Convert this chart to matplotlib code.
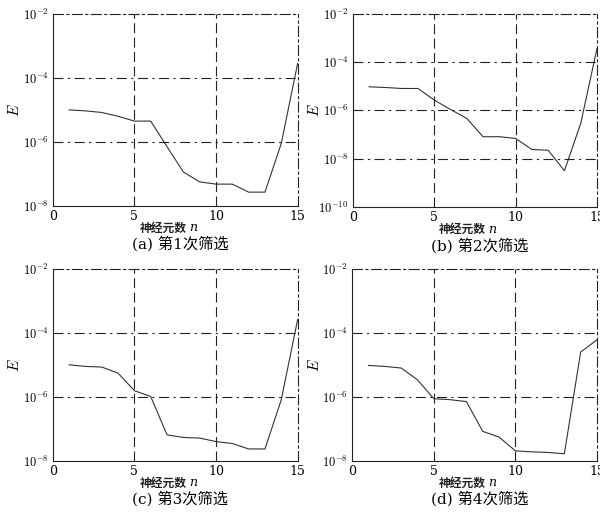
import numpy as np
import matplotlib
matplotlib.use("Agg")
import matplotlib.pyplot as plt
from matplotlib.ticker import FixedLocator, FuncFormatter

plt.rcParams['font.family'] = ['DejaVu Serif', 'Noto Sans CJK SC']
plt.rcParams['mathtext.fontset'] = 'cm'

# 神经元数 n
n = np.arange(1, 16)

# log10(E), one list per screening round
logE_1 = [-5.0, -5.03, -5.08, -5.2, -5.35, -5.35, -6.15, -6.94, -7.25, -7.32,
          -7.32, -7.57, -7.57, -6.05, -3.55]
logE_2 = [-5.02, -5.05, -5.09, -5.09, -5.57, -5.96, -6.33, -7.09, -7.09, -7.16,
          -7.62, -7.65, -8.5, -6.54, -3.43]
logE_3 = [-5.0, -5.05, -5.07, -5.26, -5.81, -5.99, -7.19, -7.27, -7.29, -7.4,
          -7.46, -7.63, -7.63, -6.09, -3.59]
logE_4 = [-5.02, -5.05, -5.1, -5.47, -6.06, -6.09, -6.15, -7.08, -7.26, -7.69,
          -7.72, -7.74, -7.78, -4.6, -4.22]

captions = ["(a) 第1次筛选", "(b) 第2次筛选", "(c) 第3次筛选", "(d) 第4次筛选"]
xlabel_cn = "神经元数"
ylims = [(1e-8, 1e-2), (1e-10, 1e-2), (1e-8, 1e-2), (1e-8, 1e-2)]
xticks = [0, 5, 10, 15]

# [left, bottom, width, height] of each panel
boxes = [[0.088, 0.601, 0.408, 0.372],
         [0.588, 0.599, 0.407, 0.374],
         [0.088, 0.107, 0.408, 0.372],
         [0.587, 0.107, 0.408, 0.372]]

fig = plt.figure(figsize=(6, 5.16), dpi=100)

for logE, cap, ylim, box in zip([logE_1, logE_2, logE_3, logE_4], captions, ylims, boxes):
    ax = fig.add_axes(box)
    ax.plot(n, 10.0 ** np.array(logE), color='#333333', lw=0.8)
    ax.set_yscale('log')
    ax.set_xlim(0, 15)
    ax.set_ylim(*ylim)

    lo = int(np.log10(ylim[0]))
    hi = int(np.log10(ylim[1]))
    yt = [10.0 ** k for k in range(lo, hi + 1, 2)]
    ax.yaxis.set_major_locator(FixedLocator(yt))
    ax.yaxis.set_minor_locator(FixedLocator([]))
    ax.yaxis.set_major_formatter(FuncFormatter(
        lambda v, p: r'$10^{%d}$' % round(np.log10(v))))
    ax.set_xticks(xticks)

    for k in yt[1:-1]:
        ax.axhline(k, color='#222222', lw=0.8, ls=(0, (9, 4, 2, 4)))
    for x in [5, 10]:
        ax.axvline(x, color='#222222', lw=0.8, ls=(0, (9, 4)))

    for s in ['top', 'right']:
        ax.spines[s].set_linestyle((0, (9, 3, 2, 3)))
    for s in ax.spines.values():
        s.set_linewidth(0.8)
        s.set_color('#222222')

    ax.tick_params(length=0, labelsize=9, pad=3)
    ax.set_ylabel(r'$E$', fontsize=11)
    ax.yaxis.set_label_coords(-0.125, 0.5)

    # x label: Chinese words plus an italic n
    ax.text(0.45, -0.115, xlabel_cn, transform=ax.transAxes, ha='center', va='center',
            fontsize=8.5, family='Noto Sans CJK SC', fontweight='bold', color='#222222')
    ax.text(0.555, -0.115, 'n', transform=ax.transAxes, ha='left', va='center',
            fontsize=9, fontstyle='italic')
    ax.text(0.52, -0.2, cap, transform=ax.transAxes, ha='center', va='center',
            fontsize=11)

fig.savefig('out.png', dpi=100)
